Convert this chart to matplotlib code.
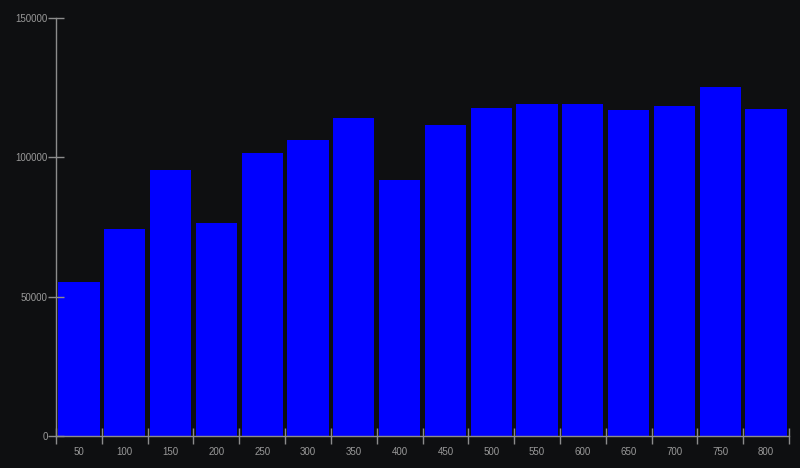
import numpy as np
import matplotlib
matplotlib.use('Agg')
import matplotlib.pyplot as plt

categories = ['50', '100', '150', '200', '250', '300', '350', '400',
              '450', '500', '550', '600', '650', '700', '750', '800']
values = [55100, 74200, 95600, 76400, 101500, 106200, 114000, 92000,
          111500, 117700, 119200, 119200, 116900, 118500, 125200, 117200]

BG = '#0e0f11'
AXIS = '#8c8c8c'
TEXT = '#999999'

plt.rcParams['font.family'] = ['Liberation Sans', 'DejaVu Sans']


def main():
    fig = plt.figure(figsize=(8, 4.68), dpi=100, facecolor=BG)
    ax = fig.add_axes([56 / 800, 1 - 436 / 468, 733 / 800, 418 / 468])
    ax.set_facecolor(BG)

    x = np.arange(len(categories))
    ax.bar(x, values, width=0.9, color='#0000ff')

    ax.set_xlim(-0.5, len(categories) - 0.5)
    ax.set_ylim(0, 150000)

    for side in ['top', 'right']:
        ax.spines[side].set_visible(False)
    for side in ['left', 'bottom']:
        ax.spines[side].set_color(AXIS)
        ax.spines[side].set_linewidth(1.0)

    # y axis
    ax.set_yticks([0, 50000, 100000, 150000])
    ax.set_yticklabels(['0', '50000', '100000', '150000'])
    ax.tick_params(axis='y', direction='inout', length=12, width=1.0,
                   color=AXIS, labelcolor=TEXT, labelsize=7, pad=0)

    # x axis: ticks on band edges, labels on band centres
    ax.set_xticks(np.arange(len(categories) + 1) - 0.5)
    ax.set_xticklabels([''] * (len(categories) + 1))
    ax.set_xticks(x, minor=True)
    ax.set_xticklabels(categories, minor=True)
    ax.tick_params(axis='x', which='major', direction='inout', length=12,
                   width=1.0, color=AXIS)
    ax.tick_params(axis='x', which='minor', length=0, labelcolor=TEXT,
                   labelsize=7, pad=8)

    fig.savefig('out.png', dpi=100, facecolor=BG)


if __name__ == '__main__':
    main()
